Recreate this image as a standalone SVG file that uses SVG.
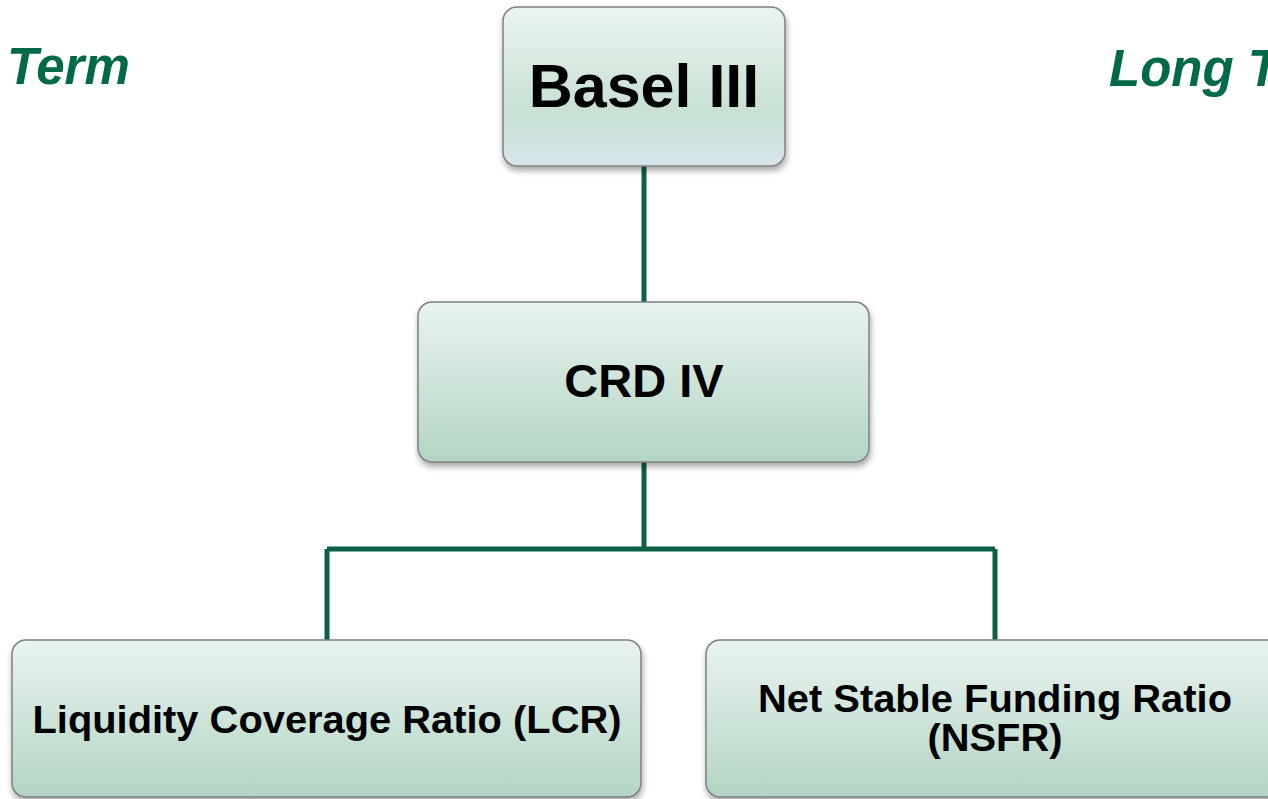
<svg xmlns="http://www.w3.org/2000/svg" width="1268" height="799" viewBox="0 0 1268 799">
<style>
.box{stroke:#808080;stroke-width:1.5}
.lbl{font-family:"Liberation Sans",Arial,sans-serif;font-weight:bold;fill:#000;text-anchor:middle}
.side{font-family:"Liberation Sans",Arial,sans-serif;font-weight:bold;font-style:italic;fill:#006a48;font-size:51px}
.conn{fill:none;stroke:#0d5f48;stroke-width:5}
</style>
<defs>
<linearGradient id="g1" x1="0" y1="0" x2="0" y2="1">
<stop offset="0" stop-color="#ebf4f0"/>
<stop offset="0.65" stop-color="#c8e1d3"/>
<stop offset="1" stop-color="#d6e5eb"/>
</linearGradient>
<linearGradient id="g2" x1="0" y1="0" x2="0" y2="1">
<stop offset="0" stop-color="#e9f3ef"/>
<stop offset="1" stop-color="#b3d5c4"/>
</linearGradient>
<filter id="sh" x="-10%" y="-10%" width="120%" height="130%">
<feGaussianBlur in="SourceAlpha" stdDeviation="3"/>
<feOffset dx="1" dy="4" result="b"/>
<feComponentTransfer><feFuncA type="linear" slope="0.35"/></feComponentTransfer>
<feMerge><feMergeNode/><feMergeNode in="SourceGraphic"/></feMerge>
</filter>
</defs>
<rect width="1268" height="799" fill="#ffffff"/>
<text class="side" x="7" y="84">Term</text>
<text class="side" x="1109" y="86">Long T</text>
<g id="connectors">
<path class="conn" d="M644 166 V302"/>
<path class="conn" d="M644 462 V549 M327 549 H995 M327 549 V640 M995 549 V640"/>
</g>
<g id="basel">
<rect class="box" x="503" y="7" width="282" height="159" rx="14" fill="url(#g1)" filter="url(#sh)"/>
<text class="lbl" x="644" y="107" font-size="61">Basel III</text>
</g>
<g id="crd">
<rect class="box" x="418" y="302" width="451" height="160" rx="14" fill="url(#g2)" filter="url(#sh)"/>
<text class="lbl" x="644" y="397" font-size="47">CRD IV</text>
</g>
<g id="lcr">
<rect class="box" x="12" y="640" width="629" height="157" rx="14" fill="url(#g2)" filter="url(#sh)"/>
<text class="lbl" x="327" y="733" font-size="39" textLength="589" lengthAdjust="spacingAndGlyphs">Liquidity Coverage Ratio (LCR)</text>
</g>
<g id="nsfr">
<rect class="box" x="706" y="640" width="580" height="157" rx="14" fill="url(#g2)" filter="url(#sh)"/>
<text class="lbl" x="995" y="712" font-size="39" textLength="474" lengthAdjust="spacingAndGlyphs">Net Stable Funding Ratio</text>
<text class="lbl" x="995" y="751" font-size="39" textLength="135" lengthAdjust="spacingAndGlyphs">(NSFR)</text>
</g>
</svg>
